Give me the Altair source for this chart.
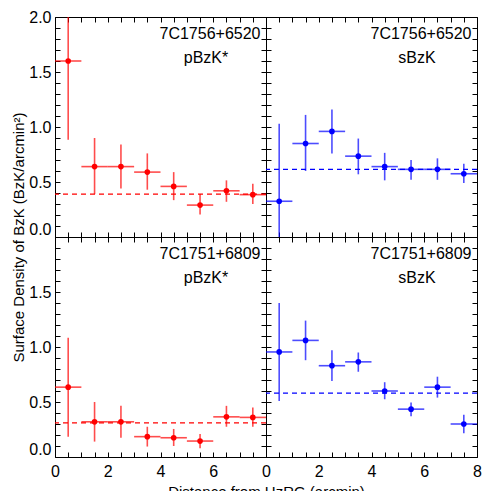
import altair as alt
import pandas as pd

# ---- data ----
x_centers = [0.5, 1.5, 2.5, 3.5, 4.5, 5.5, 6.5, 7.5]
x_half = 0.5

names = ["7C1756+6520", "7C1751+6809"]
kinds = ["pBzK*", "sBzK"]

# 7C1756+6520 pBzK*
tl_val = [1.60, 0.64, 0.64, 0.59, 0.46, 0.29, 0.42, 0.385]
tl_lo = [0.885, 0.39, 0.44, 0.43, 0.335, 0.205, 0.32, 0.30]
tl_hi = [2.315, 0.90, 0.84, 0.76, 0.59, 0.39, 0.515, 0.485]
tl_mean = 0.39

# 7C1756+6520 sBzK
tr_val = [0.325, 0.85, 0.96, 0.735, 0.64, 0.615, 0.615, 0.575]
tr_lo = [-0.38, 0.60, 0.76, 0.57, 0.515, 0.52, 0.52, 0.49]
tr_hi = [1.03, 1.11, 1.16, 0.895, 0.765, 0.70, 0.715, 0.665]
tr_mean = 0.615

# 7C1751+6809 pBzK*
bl_val = [0.635, 0.32, 0.32, 0.185, 0.175, 0.145, 0.365, 0.36]
bl_lo = [0.185, 0.14, 0.175, 0.095, 0.10, 0.08, 0.275, 0.275]
bl_hi = [1.085, 0.50, 0.465, 0.275, 0.255, 0.21, 0.465, 0.45]
bl_mean = 0.31

# 7C1751+6809 sBzK
br_val = [0.955, 1.06, 0.83, 0.865, 0.60, 0.435, 0.635, 0.30]
br_lo = [0.51, 0.88, 0.69, 0.775, 0.525, 0.37, 0.54, 0.215]
br_hi = [1.40, 1.24, 0.97, 0.95, 0.68, 0.495, 0.73, 0.385]
br_mean = 0.58

x_ticks = [i * 0.5 for i in range(17)]
y_ticks = [round(i * 0.1, 1) for i in range(21)]

FONT = "Liberation Sans"
W, H = 211, 220


def make_axis(orient, values, label_expr, **kw):
    base = dict(
        orient=orient, values=values, tickSize=5, offset=-5, domain=False,
        grid=False, tickColor="black", tickWidth=1, labelOverlap=False,
        labelFlush=False, title=None, labelFont=FONT, labelFontSize=16,
        labelColor="black",
    )
    if label_expr is None:
        base["labels"] = False
    else:
        base["labelExpr"] = label_expr
    base.update(kw)
    return alt.Axis(**base)


def panel(vals, lo, hi, mean, color, name, kind, xlab, ylab, ytitle=False, xtitle=False):
    df = pd.DataFrame({
        "x": x_centers,
        "xl": [c - x_half for c in x_centers],
        "xh": [c + x_half for c in x_centers],
        "y": vals, "lo": lo, "hi": hi,
    })
    xs = alt.Scale(domain=[0, 8], nice=False, zero=False)
    ys = alt.Scale(domain=[0, 2], nice=False, zero=False)

    if xlab == "left":
        xexpr = "datum.value % 2 === 0 && datum.value < 7.9 ? '' + datum.value : ''"
    elif xlab == "all":
        xexpr = "datum.value % 2 === 0 ? '' + datum.value : ''"
    else:
        xexpr = None
    if ylab == "top":
        yexpr = "abs(datum.value*2 - round(datum.value*2)) < 1e-6 ? format(datum.value, '.1f') : ''"
    elif ylab == "bottom":
        yexpr = "abs(datum.value*2 - round(datum.value*2)) < 1e-6 && datum.value < 1.95 ? format(datum.value, '.1f') : ''"
    else:
        yexpr = None

    xkw = dict(labelPadding=6)
    if xtitle:
        xkw.update(title="Distance from HzRG (arcmin)", titleX=W, titleY=44,
                   titleAlign="center", titleBaseline="alphabetic",
                   titleFont=FONT, titleFontSize=15, titleFontWeight="normal",
                   titleColor="black")
    ykw = dict(labelPadding=4,
               labelBaseline={"condition": {"test": "datum.value === 0", "value": "bottom"},
                              "value": "middle"})
    if ytitle:
        ykw.update(title="Surface Density of BzK (BzK/arcmin²)", titleX=-42, titleY=H,
                   titleAngle=270, titleAlign="center", titleBaseline="middle",
                   titleFont=FONT, titleFontSize=15, titleFontWeight="normal",
                   titleColor="black")

    bottom_axis = make_axis("bottom", x_ticks, xexpr, **xkw)
    left_axis = make_axis("left", y_ticks, yexpr, **ykw)
    top_axis = make_axis("top", x_ticks, None)
    right_axis = make_axis("right", y_ticks, None)

    base = alt.Chart(df)
    ebar_y = base.mark_rule(color=color, strokeWidth=1.6, opacity=0.7, clip=True).encode(
        x=alt.X("x:Q", scale=xs, axis=bottom_axis),
        y=alt.Y("lo:Q", scale=ys, axis=left_axis),
        y2="hi:Q",
    )
    ebar_x = base.mark_rule(color=color, strokeWidth=1.6, opacity=0.7, clip=True).encode(
        x=alt.X("xl:Q", scale=xs, axis=None),
        x2="xh:Q",
        y=alt.Y("y:Q", scale=ys, axis=None),
    )
    pts = base.mark_circle(color=color, size=32, opacity=1).encode(
        x=alt.X("x:Q", scale=xs, axis=None),
        y=alt.Y("y:Q", scale=ys, axis=None),
    )
    mean_rule = alt.Chart(pd.DataFrame({"m": [mean]})).mark_rule(
        color=color, strokeDash=[5, 4], strokeWidth=1.2
    ).encode(y=alt.Y("m:Q", scale=ys, axis=None))
    t1 = alt.Chart(pd.DataFrame({"t": [name]})).mark_text(
        font=FONT, fontSize=16, align="center", baseline="middle", color="black"
    ).encode(text="t:N", x=alt.value(155), y=alt.value(17))
    t2 = alt.Chart(pd.DataFrame({"t": [kind]})).mark_text(
        font=FONT, fontSize=16, align="center", baseline="middle", color="black"
    ).encode(text="t:N", x=alt.value(151), y=alt.value(40.5))
    frame = base.mark_point(opacity=0).encode(
        x=alt.X("x:Q", scale=xs, axis=top_axis),
        y=alt.Y("y:Q", scale=ys, axis=right_axis),
    )
    return alt.layer(ebar_y, ebar_x, pts, mean_rule, t1, t2, frame).resolve_axis(
        x="independent", y="independent"
    ).properties(width=W, height=H)


RED = "#ff0000"
BLUE = "#0000ff"

tl = panel(tl_val, tl_lo, tl_hi, tl_mean, RED, names[0], kinds[0], "none", "top", ytitle=True)
tr = panel(tr_val, tr_lo, tr_hi, tr_mean, BLUE, names[0], kinds[1], "none", "none")
bl = panel(bl_val, bl_lo, bl_hi, bl_mean, RED, names[1], kinds[0], "left", "bottom", xtitle=True)
br = panel(br_val, br_lo, br_hi, br_mean, BLUE, names[1], kinds[1], "all", "none")

chart = alt.concat(tl, tr, bl, br, columns=2, spacing=0, bounds="flush").configure_view(
    stroke="black", strokeWidth=1
).properties(padding={"left": 2, "top": 0, "right": 0, "bottom": 0}, background="white")

chart.save("out.html", embed_options={"renderer": "svg", "actions": False})
